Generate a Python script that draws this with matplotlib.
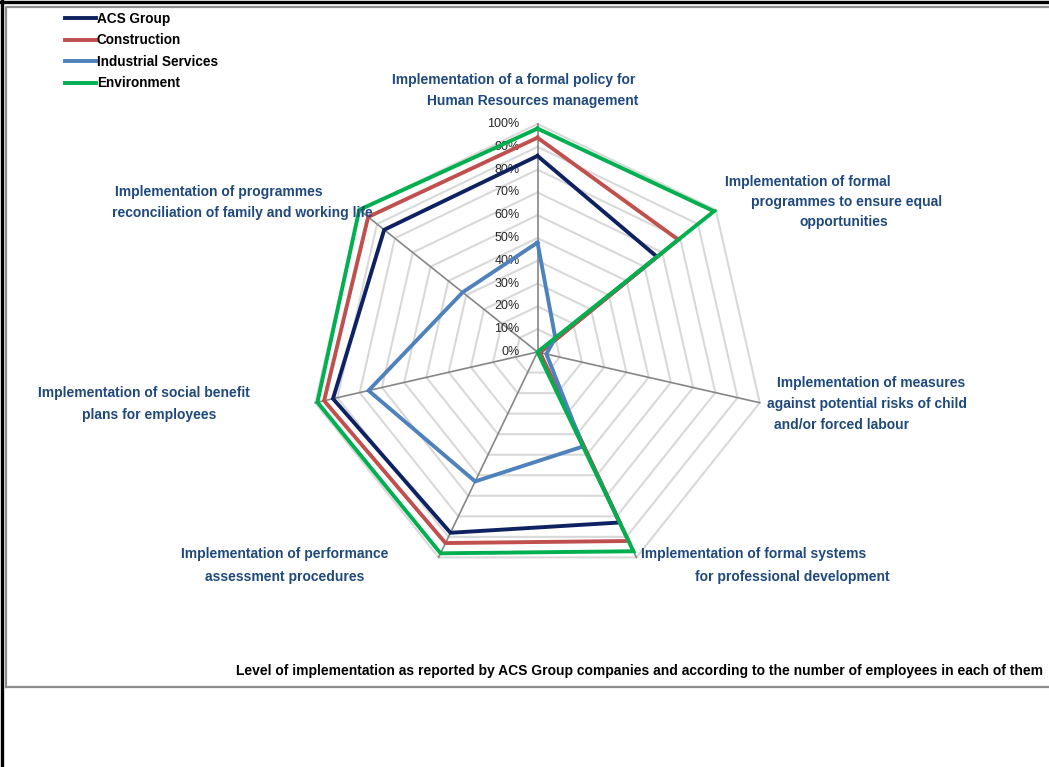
import numpy as np
import matplotlib.pyplot as plt
from matplotlib.lines import Line2D
from matplotlib import font_manager

# pick a narrow font close to Calibri if one is around
names = {f.name for f in font_manager.fontManager.ttflist}
narrow = 'Liberation Sans Narrow' if 'Liberation Sans Narrow' in names else 'Liberation Sans'
plt.rcParams['font.family'] = [narrow, 'DejaVu Sans']

# data (in %)
categories = [
    "Implementation of a formal policy for\nHuman Resources management",
    "Implementation of formal\nprogrammes to ensure equal\nopportunities",
    "Implementation of measures\nagainst potential risks of child\nand/or forced labour",
    "Implementation of formal systems\nfor professional development",
    "Implementation of performance\nassessment procedures",
    "Implementation of social benefit\nplans for employees",
    "Implementation of programmes\nreconciliation of family and working life",
]
series_names = ["ACS Group", "Construction", "Industrial Services", "Environment"]
acs = [86, 67, 1, 83, 88, 92, 86]
construction = [94, 79, 1, 92, 93, 96, 95]
industrial = [48, 10, 4, 46, 63, 76, 42]
environment = [98, 99, 0, 97, 98, 99, 100]
tick_labels = ["0%", "10%", "20%", "30%", "40%", "50%", "60%", "70%", "80%", "90%", "100%"]

colors = ['#0E2262', '#C0504D', '#4F81BD', '#00B050']
label_color = '#1F497D'

W, H = 1049, 767
fig = plt.figure(figsize=(W / 100, H / 100), dpi=100)

# frames: black outer lines and gray chart border
fig.add_artist(Line2D([0, 1], [1 - 1.5 / H, 1 - 1.5 / H], color='black', lw=2.4, transform=fig.transFigure))
fig.add_artist(Line2D([1.5 / W, 1.5 / W], [0, 1], color='black', lw=2.4, transform=fig.transFigure))
gx0, gy0, gx1, gy1 = 5.5 / W, 1 - 687 / H, 1.2, 1 - 6.5 / H
fig.add_artist(Line2D([gx0, gx1, gx1, gx0, gx0], [gy0, gy0, gy1, gy1, gy0],
                      color='#8C8C8C', lw=1.6, transform=fig.transFigure))

# polar axes centered at (537.5, 352) px with radius 228 px
cx, cy, R = 537.5, 352, 228
ax = fig.add_axes([(cx - R) / W, (H - cy - R) / H, 2 * R / W, 2 * R / H], projection='polar')
ax.set_theta_offset(np.pi / 2)
ax.set_theta_direction(-1)
ax.set_ylim(0, 100)
ax.axis('off')

n = len(categories)
angles = np.linspace(0, 2 * np.pi, n, endpoint=False)
closed = np.concatenate([angles, angles[:1]])

# heptagon rings
for r in range(10, 101, 10):
    ax.plot(closed, [r] * (n + 1), color='#D9D9D9', lw=1.5, zorder=1, clip_on=False)
# spokes
for a in angles:
    ax.plot([a, a], [0, 100], color='#868686', lw=1.2, zorder=2, clip_on=False)

# tick labels along top spoke
for i, t in enumerate(tick_labels):
    ax.annotate(t, xy=(0, i * 10), xytext=(-13, 0), textcoords='offset points',
                ha='right', va='center', fontsize=9, color='#262626', zorder=3)

handles = []
for vals, name, c in zip([acs, construction, industrial, environment], series_names, colors):
    v = np.concatenate([vals, vals[:1]])
    h, = ax.plot(closed, v, color=c, lw=2.8, zorder=4, clip_on=False, solid_joinstyle='miter')
    handles.append(h)

# category labels (line centers in pixels)
label_pos = [
    [(514, 80), (533, 101)],
    [(808, 182), (847, 202), (844, 222)],
    [(871, 383), (867, 404), (842, 425)],
    [(754, 554), (792, 577)],
    [(285, 554), (285, 577)],
    [(144, 393), (149, 415)],
    [(219, 192), (242, 213)],
]
for cat, pos in zip(categories, label_pos):
    for line, (x, y) in zip(cat.split('\n'), pos):
        fig.text(x / W, 1 - y / H, line, ha='center', va='center', fontsize=10,
                 fontweight='bold', color=label_color)

fig.legend(handles, series_names, loc='upper left', bbox_to_anchor=(58 / W, 1 - 5 / H),
           frameon=False, prop={'weight': 'bold', 'size': 9.8},
           handlelength=2.3, handletextpad=0.05, labelspacing=0.55, borderpad=0)

fig.text(640 / W, 1 - 671 / H,
         "Level of implementation as reported by ACS Group companies and according to the number of employees in each of them",
         ha='center', va='center', fontsize=10, fontweight='bold', color='black')

fig.savefig('out.png', dpi=100)
